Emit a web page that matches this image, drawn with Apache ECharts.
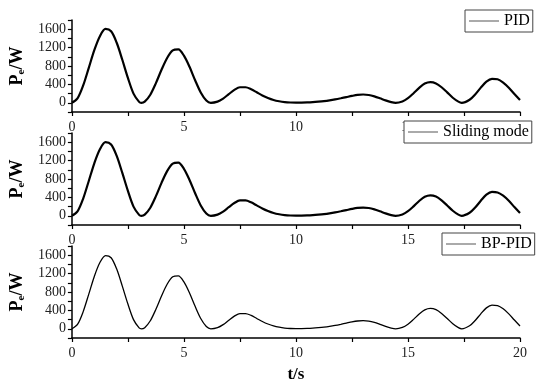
<!DOCTYPE html>
<html>
<head>
<meta charset="utf-8">
<script src="https://cdn.jsdelivr.net/npm/echarts@6/dist/echarts.min.js"></script>
<style>
  html, body { margin: 0; padding: 0; background: #fff; }
  #main { width: 550px; height: 384px; }
</style>
</head>
<body>
<div id="main"></div>
<script>
// time points (s)
var tData = [0,0.25,0.5,0.75,1,1.25,1.5,1.75,2,2.25,2.5,2.75,3,3.1,3.25,3.5,3.75,4,4.25,4.5,4.75,5,5.25,5.5,5.75,6,6.2,
  6.5,6.75,7,7.25,7.5,7.75,8,8.25,8.5,8.75,9,9.25,9.5,9.75,10,10.25,10.5,10.75,11,11.25,11.5,11.75,12,12.25,12.5,12.75,
  13,13.25,13.5,13.75,14,14.25,14.45,14.75,15,15.25,15.5,15.75,16,16.25,16.5,16.75,17,17.25,17.4,17.75,18,18.25,18.5,
  18.75,19,19.25,19.5,19.75,20];

// Pe (W)
var pidData = [0,95,372,755,1145,1448,1605,1555,1305,935,540,200,20,0,25,176,428,718,975,1140,1160,1025,782,490,225,50,0,
  26,92,188,280,338,338,295,228,160,105,62,34,16,7,4,5,9,16,26,38,54,74,98,124,150,172,180,170,140,98,52,16,
  0,30,100,208,325,418,450,422,338,226,110,25,0,66,183,330,462,522,512,440,328,190,60];
var smData = [0,95,370,752,1142,1445,1600,1550,1302,932,540,200,20,0,25,176,427,716,972,1135,1155,1022,780,490,225,50,0,
  25,91,186,277,335,335,292,226,160,105,62,34,16,7,4,5,9,16,26,38,54,74,98,124,150,171,179,169,140,98,52,16,
  0,30,100,206,322,414,445,418,336,225,110,25,0,65,181,327,458,518,508,437,326,190,60];
var bpData = [0,95,368,748,1138,1440,1592,1545,1298,928,538,200,20,0,25,175,425,713,968,1130,1150,1018,778,488,224,50,0,
  25,90,185,275,332,332,290,225,159,104,62,34,16,7,4,5,9,16,26,38,54,74,98,124,150,170,178,168,139,97,52,16,
  0,30,100,205,320,410,442,415,334,224,110,25,0,65,180,325,455,515,505,435,325,190,60];

var seriesNames = ['PID', 'Sliding mode', 'BP-PID'];
var seriesData = [pidData, smData, bpData];
var lineWidths = [2.2, 2.2, 1.3];

var gridTops = [20, 133, 246];
var legendPos = [[465, 10], [404, 121], [442, 233]];
var font = 'Liberation Serif';

function pairs(vals) {
  return tData.map(function (t, i) { return [t, vals[i]]; });
}

var grids = [], xAxes = [], yAxes = [], series = [], legends = [];
for (var i = 0; i < 3; i++) {
  grids.push({ left: 62, right: 30, top: gridTops[i], height: 92 });
  xAxes.push({
    type: 'value', gridIndex: i, min: 0, max: 20, interval: 2.5,
    axisLine: { onZero: false, lineStyle: { color: '#000', width: 1.5 } },
    axisTick: { length: 4, lineStyle: { color: '#000', width: 1.2 } },
    axisLabel: {
      color: '#222', fontFamily: font, fontSize: 14, margin: 8,
      formatter: function (v) { return v % 5 === 0 ? String(v) : ''; }
    },
    splitLine: { show: false },
    name: i === 2 ? 't/s' : '',
    nameLocation: 'middle', nameGap: 28,
    nameTextStyle: { fontFamily: font, fontSize: 17, fontWeight: 'bold', color: '#000' }
  });
  yAxes.push({
    type: 'value', gridIndex: i, min: -200, max: 1800, interval: 200,
    axisLine: { show: true, lineStyle: { color: '#000', width: 1.5 } },
    axisTick: { show: true, length: 4, lineStyle: { color: '#000', width: 1.2 } },
    axisLabel: {
      color: '#222', fontFamily: font, fontSize: 14, margin: 6,
      formatter: function (v) { return (v >= 0 && v % 400 === 0) ? String(v) : ''; }
    },
    splitLine: { show: false },
    name: '{b|P}{s|e}{b|/W}',
    nameLocation: 'middle', nameGap: 36,
    nameTextStyle: {
      rich: {
        b: { fontFamily: font, fontSize: 18, fontWeight: 'bold', color: '#000' },
        s: { fontFamily: font, fontSize: 11, fontWeight: 'bold', color: '#000', padding: [9, 0, 0, 0] }
      }
    }
  });
  series.push({
    name: seriesNames[i], type: 'line', xAxisIndex: i, yAxisIndex: i,
    data: pairs(seriesData[i]), symbol: 'none', smooth: 0.3,
    lineStyle: { color: '#000', width: lineWidths[i] },
    itemStyle: { color: '#000' }
  });
  legends.push({
    data: [{ name: seriesNames[i], icon: 'rect' }],
    left: legendPos[i][0], top: legendPos[i][1],
    backgroundColor: '#fff', borderColor: '#444', borderWidth: 1, borderRadius: 0,
    padding: [3, 3, 3, 4], itemWidth: 30, itemHeight: 1, itemGap: 5, z: 10,
    itemStyle: { color: '#555' },
    textStyle: { fontFamily: font, fontSize: 16, color: '#000' }
  });
}

var myChart = echarts.init(document.getElementById('main'));
myChart.setOption({
  animation: false,
  backgroundColor: '#fff',
  grid: grids,
  xAxis: xAxes,
  yAxis: yAxes,
  legend: legends,
  series: series
});
</script>
</body>
</html>
